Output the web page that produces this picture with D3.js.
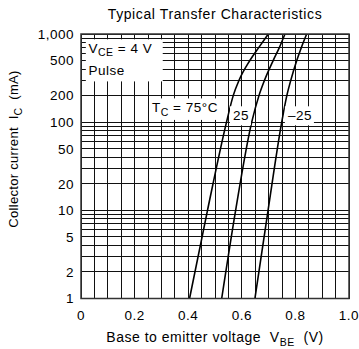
<!DOCTYPE html>
<html>
<head>
<meta charset="utf-8">
<script src="https://cdn.jsdelivr.net/npm/d3@7"></script>
<style>
  body { margin: 0; background: #fff; }
  text { font-family: "Liberation Sans", Arial, Helvetica, sans-serif; fill: #000; white-space: pre; }
</style>
</head>
<body>
<svg id="chart" width="359" height="349"></svg>
<script>
// axis ticks
const vbeTicks = [0, 0.2, 0.4, 0.6, 0.8, 1.0];
const icTicks = [1, 2, 5, 10, 20, 50, 100, 200, 500, 1000];

// curves: collector current (mA) vs base-emitter voltage (V)
const icPoints = [1, 10, 100, 200, 300, 500, 700, 1000];
const vbeTc75 = [0.405, 0.472, 0.543, 0.568, 0.590, 0.630, 0.663, 0.699];
const vbeTc25 = [0.525, 0.577, 0.637, 0.664, 0.685, 0.717, 0.740, 0.761];
const vbeTcM25 = [0.649, 0.698, 0.749, 0.768, 0.783, 0.805, 0.822, 0.842];

// curve labels, placed in data units
const curveLabels = ['75', '25', '\u201325'];
const labelVbe = [0.265, 0.567, 0.772];
const labelIc = [129, 105, 105];

const margin = { top: 34, right: 10, bottom: 50.5, left: 81 };
const width = 359 - margin.left - margin.right;
const height = 349 - margin.top - margin.bottom;
const fontSize = 13.5;
const subSize = 10.5;
const spacing = '0.5px';

const svg = d3.select('#chart');
const g = svg.append('g').attr('transform', `translate(${margin.left},${margin.top})`);

const x = d3.scaleLinear().domain([0, 1]).range([0, width]);
const y = d3.scaleLog().domain([1, 1000]).range([height, 0]);

// grid
const grid = g.append('g').attr('stroke', '#111').attr('stroke-width', 1).attr('shape-rendering', 'crispEdges');
grid.selectAll('line.v')
    .data(d3.range(0, 1.0001, 0.05))
    .join('line')
    .attr('x1', (d) => x(d)).attr('x2', (d) => x(d))
    .attr('y1', 0).attr('y2', height);
grid.selectAll('line.h')
    .data(y.ticks())
    .join('line')
    .attr('x1', 0).attr('x2', width)
    .attr('y1', (d) => y(d)).attr('y2', (d) => y(d));

// V_CE box (white patch over grid)
const box = g.append('g');
const boxText = box.append('text').attr('font-size', fontSize).attr('letter-spacing', spacing)
    .attr('x', x(0.028)).attr('y', y(610));
boxText.append('tspan').text('V');
boxText.append('tspan').attr('font-size', subSize).attr('dy', 3.5).text('CE');
boxText.append('tspan').attr('dy', -3.5).text(' = 4 V');
box.append('text').attr('font-size', fontSize).attr('letter-spacing', spacing)
    .attr('x', x(0.028)).attr('y', y(340)).text('Pulse');
box.insert('rect', 'text')
    .attr('x', x(0.018)).attr('y', y(870))
    .attr('width', x(0.305) - x(0.018)).attr('height', y(290) - y(870))
    .attr('fill', '#fff');

// curves
const line = d3.line()
    .x((d) => x(d[0]))
    .y((d) => y(d[1]))
    .curve(d3.curveMonotoneX);
[vbeTc75, vbeTc25, vbeTcM25].forEach((vs) => {
    g.append('path')
        .datum(vs.map((v, i) => [v, icPoints[i]]))
        .attr('fill', 'none')
        .attr('stroke', '#000')
        .attr('stroke-width', 1.6)
        .attr('d', line);
});

// curve labels with white backing
curveLabels.forEach((lab, i) => {
    const lg = g.append('g');
    const t = lg.append('text').attr('font-size', fontSize).attr('letter-spacing', spacing)
        .attr('x', x(labelVbe[i])).attr('y', y(labelIc[i]));
    if (i === 0) {
        t.append('tspan').text('T');
        t.append('tspan').attr('font-size', subSize).attr('dy', 3.5).text('C');
        t.append('tspan').attr('dy', -3.5).text(' = ' + lab + '\u00B0C');
    } else {
        t.text(lab);
    }
    const bb = t.node().getBBox();
    lg.insert('rect', 'text')
        .attr('x', bb.x - 3).attr('y', bb.y - 2)
        .attr('width', bb.width + 5).attr('height', bb.height + 4)
        .attr('fill', '#fff');
});

// frame
g.append('rect')
    .attr('width', width).attr('height', height)
    .attr('fill', 'none').attr('stroke', '#333').attr('stroke-width', 1.5);

// y tick labels
g.append('g').selectAll('text')
    .data(icTicks)
    .join('text')
    .attr('font-size', fontSize)
    .attr('letter-spacing', spacing)
    .attr('text-anchor', 'end')
    .attr('x', -7)
    .attr('y', (d) => y(d))
    .attr('dy', '0.36em')
    .text((d) => d3.format(',')(d));

// x tick labels
g.append('g').selectAll('text')
    .data(vbeTicks)
    .join('text')
    .attr('font-size', fontSize)
    .attr('letter-spacing', spacing)
    .attr('text-anchor', 'middle')
    .attr('x', (d) => x(d))
    .attr('y', height + 21)
    .text((d) => d3.format('.1f')(d).replace(/^0\.0$/, '0'));

// title
svg.append('text')
    .attr('font-size', 14)
    .attr('letter-spacing', '0.6px')
    .attr('text-anchor', 'middle')
    .attr('x', margin.left + width / 2)
    .attr('y', 19)
    .text('Typical Transfer Characteristics');

// x axis title
const xt = svg.append('text')
    .attr('font-size', 14)
    .attr('letter-spacing', '0.5px')
    .attr('text-anchor', 'middle')
    .attr('x', margin.left + width / 2)
    .attr('y', 342);
xt.append('tspan').text('Base to emitter voltage  V');
xt.append('tspan').attr('font-size', subSize).attr('dy', 4).text('BE');
xt.append('tspan').attr('dy', -4).text('  (V)');

// y axis title
const yt = svg.append('text')
    .attr('font-size', 13)
    .attr('letter-spacing', '0.3px')
    .attr('text-anchor', 'middle')
    .attr('transform', 'translate(18,149) rotate(-90)');
yt.append('tspan').text('Collector current  I');
yt.append('tspan').attr('font-size', subSize).attr('dy', 4).text('C');
yt.append('tspan').attr('dy', -4).text('  (mA)');
</script>
</body>
</html>
